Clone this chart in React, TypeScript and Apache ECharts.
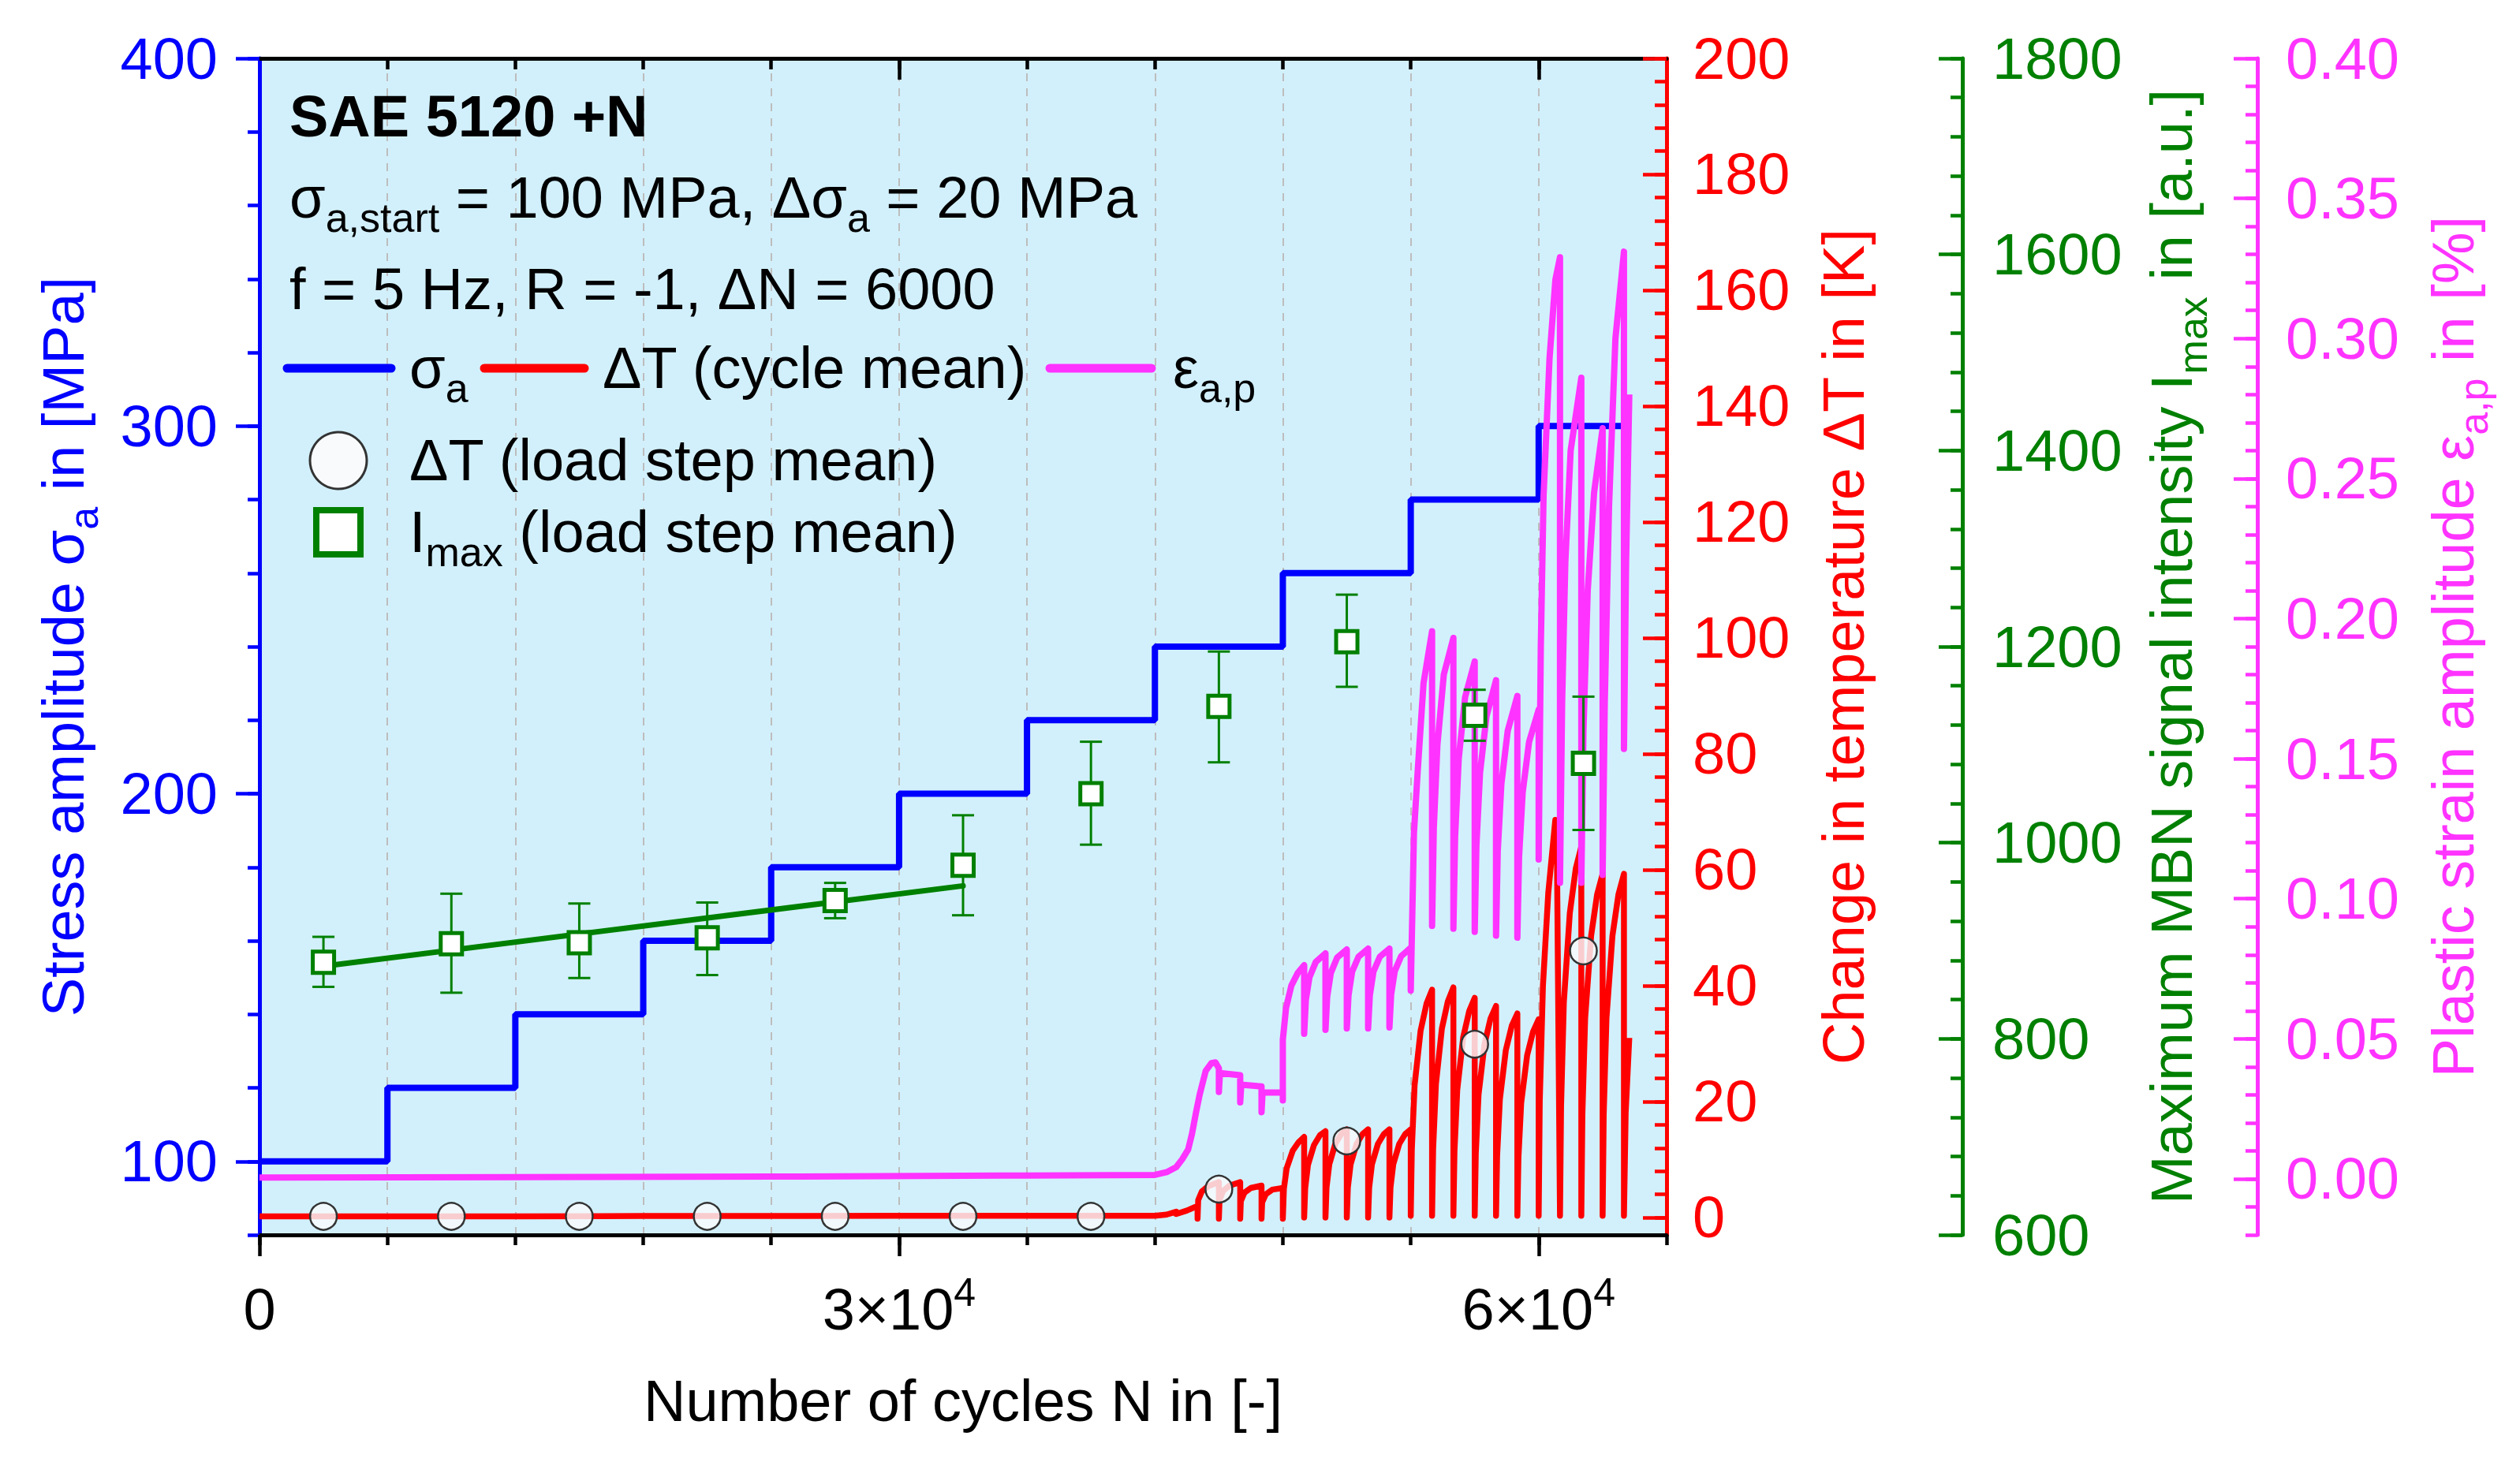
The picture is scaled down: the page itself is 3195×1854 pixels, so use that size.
import { useEffect, useRef } from 'react';
import * as echarts from 'echarts';

const FONT = '"Liberation Sans", Arial, sans-serif';
const BLUE = '#0000ff';
const RED = '#ff0000';
const GREEN = '#008000';
const MAGENTA = '#ff33ff';
const BLACK = '#000000';

// stress amplitude: start of each load step (cycles) and level (MPa)
const stepStartCycles = [0, 6000, 12000, 18000, 24000, 30000, 36000, 42000, 48000, 54000, 60000, 64250];
const stressLevels = [100, 120, 140, 160, 180, 200, 220, 240, 260, 280, 300, 300];

// load step means
const stepMeanCycles = [3000, 9000, 15000, 21000, 27000, 33000, 39000, 45000, 51000, 57000, 62100];
const dTStepMean = [0.2, 0.2, 0.2, 0.2, 0.2, 0.2, 0.2, 4.9, 13.2, 29.9, 46.0];
const imaxStepMean = [878, 897, 898, 903, 941, 977, 1050, 1139, 1205, 1130, 1081];
const imaxLow = [853, 847, 862, 865, 923, 926, 998, 1082, 1159, 1104, 1013];
const imaxHigh = [904, 948, 938, 939, 959, 1028, 1103, 1195, 1253, 1156, 1149];

// linear fit of Imax over the first load steps
const imaxFitCycles = [3000, 33000];
const imaxFitValues = [874, 956];

// ΔT (cycle mean), [cycles, K]
const dTSteps1to7 = [
  [0, 0.2], [6000, 0.2], [12000, 0.2], [18000, 0.25], [24000, 0.25], [30000, 0.3], [36000, 0.3], [42000, 0.3],
];
const dTStep8 = [
  [42550, 0.5], [43000, 1.0], [43000, 0.6], [43500, 1.2], [44000, 2.0],
  [44000, -0.2], [44030, 3.0], [44200, 4.5], [44500, 5.4], [45000, 6.1],
  [45000, -0.2], [45030, 3.0], [45200, 4.6], [45500, 5.5], [46000, 6.1],
  [46000, -0.2], [46030, 2.8], [46200, 4.3], [46500, 5.1], [47000, 5.5],
  [47000, -0.2], [47030, 2.6], [47200, 4.0], [47500, 4.8], [48000, 5.1],
  [48000, -0.2],
];
const dTStep9 = [
  [48050, 5.0], [48180, 8.5], [48460, 11.5], [48740, 13.0], [49000, 13.9], [49000, 0.0],
  [49050, 5.1], [49180, 9.1], [49460, 12.5], [49740, 14.2], [50000, 14.9], [50000, 0.0],
  [50050, 5.2], [50180, 9.2], [50460, 12.7], [50740, 14.4], [51000, 15.2], [51000, 0.0],
  [51050, 5.2], [51180, 9.2], [51460, 12.7], [51740, 14.4], [52000, 15.2], [52000, 0.0],
  [52050, 5.2], [52180, 9.2], [52460, 12.7], [52740, 14.4], [53000, 15.2], [53000, 0.0],
  [53050, 5.2], [53180, 9.2], [53460, 12.7], [53740, 14.4], [54000, 15.2], [54000, 0.3],
];
const dTStep10 = [
  [54050, 11.8], [54180, 22.8], [54460, 32.2], [54740, 36.9], [55000, 39.3], [55000, 0.3],
  [55050, 11.9], [55180, 23.0], [55460, 32.6], [55740, 37.3], [56000, 39.7], [56000, 0.3],
  [56050, 11.4], [56180, 22.0], [56460, 31.1], [56740, 35.6], [57000, 37.9], [57000, 0.3],
  [57050, 11.0], [57180, 21.2], [57460, 29.9], [57740, 34.3], [58000, 36.5], [58000, 0.3],
  [58050, 10.6], [58180, 20.4], [58460, 28.9], [58740, 33.1], [59000, 35.2], [59000, 0.3],
  [59050, 10.3], [59180, 19.8], [59460, 28.0], [59740, 32.1], [60000, 34.2], [60000, 0.3],
];
const dTStep11 = [
  [60050, 20.0], [60200, 40.0], [60450, 56.0], [60780, 68.6], [60850, 66.0], [61000, 0.3],
  [61050, 19.2], [61180, 37.1], [61460, 52.5], [61740, 60.2], [62000, 64.0], [62000, 0.3],
  [62050, 17.8], [62180, 34.4], [62460, 48.6], [62740, 55.7], [63000, 59.3], [63000, 0.3],
  [63050, 17.8], [63180, 34.4], [63460, 48.6], [63740, 55.7], [64000, 59.3], [64000, 0.3],
  [64080, 18.0], [64250, 31.0],
];

// plastic strain amplitude εa,p, [cycles, %]
const epsSteps1to7 = [[0, 0.0005], [12000, 0.0006], [24000, 0.0008], [36000, 0.0012], [42000, 0.0014]];
const epsStep8 = [
  [42550, 0.0024], [43000, 0.0042], [43280, 0.007], [43560, 0.0105], [43740, 0.0161], [43920, 0.0234],
  [44100, 0.0301], [44380, 0.0385], [44650, 0.0413], [44840, 0.0416], [45000, 0.0395],
  [45000, 0.031], [45050, 0.0378], [46000, 0.037],
  [46000, 0.0273], [46050, 0.0336], [47000, 0.033],
  [47000, 0.0238], [47050, 0.0308], [48000, 0.0308], [48000, 0.028],
];
const epsStep9 = [
  [48000, 0.0497], [48150, 0.061], [48400, 0.069], [48700, 0.0735], [49000, 0.0763],
  [49000, 0.0518], [49080, 0.064], [49250, 0.072], [49550, 0.0775], [50000, 0.0805],
  [50000, 0.0532], [50080, 0.065], [50250, 0.0735], [50550, 0.079], [51000, 0.0819],
  [51000, 0.0537], [51080, 0.0655], [51250, 0.074], [51550, 0.0793], [52000, 0.0822],
  [52000, 0.0537], [52080, 0.0655], [52250, 0.074], [52550, 0.0793], [53000, 0.0822],
  [53000, 0.054], [53080, 0.0658], [53250, 0.0742], [53550, 0.0795], [54000, 0.0825],
  [54000, 0.0672],
];
const epsStep10 = [
  [54150, 0.1235], [54330, 0.146], [54600, 0.177], [55000, 0.1955],
  [55000, 0.0903], [55080, 0.125], [55250, 0.155], [55550, 0.18], [56000, 0.1931],
  [56000, 0.0893], [56080, 0.122], [56250, 0.15], [56550, 0.172], [57000, 0.1847],
  [57000, 0.0882], [57080, 0.119], [57250, 0.145], [57550, 0.165], [58000, 0.178],
  [58000, 0.0868], [58080, 0.117], [58250, 0.141], [58550, 0.16], [59000, 0.1724],
  [59000, 0.0861], [59080, 0.115], [59250, 0.138], [59550, 0.156], [60000, 0.1675],
  [60000, 0.114],
];
const epsStep11 = [
  [60100, 0.19], [60230, 0.244], [60510, 0.293], [60785, 0.321], [61000, 0.329],
  [61000, 0.1057], [61100, 0.17], [61250, 0.22], [61500, 0.26], [62000, 0.286],
  [62000, 0.1057], [62100, 0.16], [62300, 0.21], [62600, 0.245], [63000, 0.268],
  [63000, 0.1085], [63100, 0.17], [63300, 0.24], [63600, 0.3], [64000, 0.331],
  [64000, 0.1535], [64100, 0.22], [64250, 0.28],
];

// axis labels
const xLabels = [0, 30000, 60000];
const blueLabels = [100, 200, 300, 400];
const redLabels = [0, 20, 40, 60, 80, 100, 120, 140, 160, 180, 200];
const greenLabels = [600, 800, 1000, 1200, 1400, 1600, 1800];
const magentaLabels = [0, 0.05, 0.1, 0.15, 0.2, 0.25, 0.3, 0.35, 0.4];

// tick positions between start and end
const ticks = (start: number, end: number, step: number) => {
  const out: number[] = [];
  for (let v = start; v <= end + step / 1000; v += step) out.push(Math.round(v * 1000) / 1000);
  return out;
};

const subStyle = (color: string) => ({
  sub: { fontSize: 52, lineHeight: 52, verticalAlign: 'bottom', fontFamily: FONT, color },
});

const nameStyle = (color: string) => ({
  color,
  fontSize: 74,
  fontFamily: FONT,
  lineHeight: 104,
  rich: subStyle(color),
});

function yAxisPair(o: {
  color: string;
  position: 'left' | 'right';
  offset: number;
  min: number;
  max: number;
  minor: number[];
  major: number[];
  labels: number[];
  fmt: (v: number) => string;
  margin: number;
  inside: boolean;
  name: string;
  nameGap: number;
}) {
  const tickStyle = { color: o.color, width: 4.5 };
  return [
    {
      type: 'value',
      position: o.position,
      offset: o.offset,
      min: o.min,
      max: o.max,
      axisLine: { show: true, onZero: false, lineStyle: { color: o.color, width: 5 } },
      axisTick: { show: true, inside: o.inside, length: 15, customValues: o.minor, lineStyle: tickStyle },
      axisLabel: {
        show: true,
        customValues: o.labels,
        formatter: o.fmt,
        margin: o.margin,
        color: o.color,
        fontSize: 74,
        fontFamily: FONT,
      },
      splitLine: { show: false },
      name: o.name,
      nameLocation: 'middle',
      nameRotate: 90,
      nameGap: o.nameGap,
      nameTextStyle: nameStyle(o.color),
    },
    {
      // longer ticks at the labelled values
      type: 'value',
      position: o.position,
      offset: o.offset,
      min: o.min,
      max: o.max,
      axisLine: { show: false, onZero: false },
      axisTick: { show: true, inside: o.inside, length: 30, customValues: o.major, lineStyle: tickStyle },
      axisLabel: { show: false },
      splitLine: { show: false },
    },
  ];
}

function xAxisSet() {
  const tickStyle = { color: BLACK, width: 4.5 };
  const base = { type: 'value', min: 0, max: 66000, interval: 6000 };
  return [
    {
      ...base,
      position: 'bottom',
      axisLine: { show: true, onZero: false, lineStyle: { color: BLACK, width: 5 } },
      axisTick: { show: true, inside: false, length: 13, customValues: ticks(0, 66000, 6000), lineStyle: tickStyle },
      axisLabel: {
        show: true,
        customValues: xLabels,
        formatter: (v: number) => (v === 0 ? '0' : `${v / 10000}×10{sup|4}`),
        margin: 48,
        color: BLACK,
        fontSize: 74,
        fontFamily: FONT,
        lineHeight: 93,
        rich: { sup: { fontSize: 50, lineHeight: 50, verticalAlign: 'top', fontFamily: FONT, color: BLACK } },
      },
      splitLine: { show: true, lineStyle: { color: '#bdbdbd', width: 2, type: [10, 9] } },
      name: 'Number of cycles N in [-]',
      nameLocation: 'middle',
      nameGap: 158,
      nameTextStyle: { color: BLACK, fontSize: 74, fontFamily: FONT, lineHeight: 104 },
    },
    {
      ...base,
      position: 'bottom',
      axisLine: { show: false, onZero: false },
      axisTick: { show: true, inside: false, length: 27, customValues: xLabels, lineStyle: tickStyle },
      axisLabel: { show: false },
      splitLine: { show: false },
    },
    {
      ...base,
      position: 'top',
      axisLine: { show: true, onZero: false, lineStyle: { color: BLACK, width: 5 } },
      axisTick: { show: true, inside: true, length: 14, customValues: ticks(6000, 60000, 6000), lineStyle: tickStyle },
      axisLabel: { show: false },
      splitLine: { show: false },
    },
    {
      ...base,
      position: 'top',
      axisLine: { show: false, onZero: false },
      axisTick: { show: true, inside: true, length: 27, customValues: [30000, 60000], lineStyle: tickStyle },
      axisLabel: { show: false },
      splitLine: { show: false },
    },
  ];
}

const textEl = (x: number, y: number, text: string, bold = false) => ({
  type: 'text',
  x,
  y,
  z: 50,
  style: {
    text,
    fill: BLACK,
    fontSize: 74,
    fontFamily: FONT,
    fontWeight: bold ? 'bold' : 'normal',
    lineHeight: 104,
    align: 'left',
    textAlign: 'left',
    verticalAlign: 'middle',
    textVerticalAlign: 'middle',
    rich: { sub: { fontSize: 52, lineHeight: 52, verticalAlign: 'bottom', fontFamily: FONT, fill: BLACK } },
  },
});

const legendLine = (x1: number, x2: number, y: number, color: string) => ({
  type: 'line',
  z: 50,
  shape: { x1, y1: y, x2, y2: y },
  style: { stroke: color, lineWidth: 11, lineCap: 'round' },
});

export default function App() {
  const chartRef = useRef<HTMLDivElement>(null);

  useEffect(() => {
    if (!chartRef.current) return;
    const chart = echarts.init(chartRef.current, null, { renderer: 'svg' });

    const option = {
      animation: false,
      textStyle: { fontFamily: FONT },
      grid: {
        left: 329,
        top: 74,
        width: 1784,
        height: 1492,
        show: true,
        backgroundColor: '#d2f0fb',
        borderWidth: 0,
      },
      xAxis: xAxisSet(),
      yAxis: [
        ...yAxisPair({
          color: BLUE,
          position: 'left',
          offset: 0,
          min: 80,
          max: 400,
          minor: ticks(80, 400, 20),
          major: blueLabels,
          labels: blueLabels,
          fmt: (v) => String(v),
          margin: 53,
          inside: false,
          name: 'Stress amplitude σ{sub|a} in [MPa]',
          nameGap: 197,
        }),
        ...yAxisPair({
          color: RED,
          position: 'right',
          offset: 0,
          min: -3,
          max: 200,
          minor: ticks(0, 200, 4),
          major: redLabels,
          labels: redLabels,
          fmt: (v) => String(v),
          margin: 33,
          inside: true,
          name: 'Change in temperature ΔT in [K]',
          nameGap: 172,
        }),
        ...yAxisPair({
          color: GREEN,
          position: 'right',
          offset: 375,
          min: 600,
          max: 1800,
          minor: ticks(600, 1800, 40),
          major: greenLabels,
          labels: greenLabels,
          fmt: (v) => String(v),
          margin: 38,
          inside: true,
          name: 'Maximum MBN signal intensity I{sub|max} in [a.u.]',
          nameGap: 208,
        }),
        ...yAxisPair({
          color: MAGENTA,
          position: 'right',
          offset: 749,
          min: -0.02,
          max: 0.4,
          minor: ticks(-0.02, 0.4, 0.01),
          major: magentaLabels,
          labels: magentaLabels,
          fmt: (v) => v.toFixed(2),
          margin: 36,
          inside: true,
          name: 'Plastic strain amplitude ε{sub|a,p} in [%]',
          nameGap: 196,
        }),
      ],
      graphic: [
        textEl(367, 147, 'SAE 5120 +N', true),
        textEl(367, 250, 'σ{sub|a,start} = 100 MPa, Δσ{sub|a} = 20 MPa'),
        textEl(367, 366, 'f = 5 Hz, R = -1, ΔN = 6000'),
        legendLine(364, 496, 467, BLUE),
        textEl(519, 466, 'σ{sub|a}'),
        legendLine(614, 741, 467, RED),
        textEl(764, 466, 'ΔT (cycle mean)'),
        legendLine(1331, 1460, 467, MAGENTA),
        textEl(1487, 466, 'ε{sub|a,p}'),
        {
          type: 'circle',
          z: 50,
          shape: { cx: 429, cy: 584, r: 36 },
          style: { fill: '#f8fafc', stroke: '#333333', lineWidth: 3 },
        },
        textEl(519, 583, 'ΔT (load step mean)'),
        {
          type: 'rect',
          z: 50,
          shape: { x: 401, y: 647, width: 56, height: 56 },
          style: { fill: '#ffffff', stroke: GREEN, lineWidth: 8 },
        },
        textEl(519, 674, 'I{sub|max} (load step mean)'),
      ],
      series: [
        {
          name: 'σa',
          type: 'line',
          xAxisIndex: 0,
          yAxisIndex: 0,
          step: 'end',
          symbol: 'none',
          data: stepStartCycles.map((c, i) => [c, stressLevels[i]]),
          lineStyle: { color: BLUE, width: 8 },
          z: 2,
        },
        {
          name: 'ΔT (cycle mean)',
          type: 'line',
          xAxisIndex: 0,
          yAxisIndex: 2,
          symbol: 'none',
          data: [...dTSteps1to7, ...dTStep8, ...dTStep9, ...dTStep10, ...dTStep11],
          lineStyle: { color: RED, width: 7.5, join: 'round' },
          z: 3,
        },
        {
          name: 'εa,p',
          type: 'line',
          xAxisIndex: 0,
          yAxisIndex: 6,
          symbol: 'none',
          data: [...epsSteps1to7, ...epsStep8, ...epsStep9, ...epsStep10, ...epsStep11],
          lineStyle: { color: MAGENTA, width: 8, join: 'round' },
          z: 4,
        },
        {
          name: 'Imax fit',
          type: 'line',
          xAxisIndex: 0,
          yAxisIndex: 4,
          symbol: 'none',
          data: imaxFitCycles.map((c, i) => [c, imaxFitValues[i]]),
          lineStyle: { color: GREEN, width: 7, cap: 'round' },
          z: 5,
        },
        {
          name: 'Imax error',
          type: 'custom',
          xAxisIndex: 0,
          yAxisIndex: 4,
          encode: { x: 0, y: [1, 2] },
          data: stepMeanCycles.map((c, i) => [c, imaxLow[i], imaxHigh[i]]),
          renderItem: (_params: any, api: any) => {
            const lo = api.coord([api.value(0), api.value(1)]);
            const hi = api.coord([api.value(0), api.value(2)]);
            const half = 14;
            const style = { stroke: GREEN, lineWidth: 3 };
            return {
              type: 'group',
              children: [
                { type: 'line', shape: { x1: hi[0], y1: hi[1], x2: lo[0], y2: lo[1] }, style },
                { type: 'line', shape: { x1: hi[0] - half, y1: hi[1], x2: hi[0] + half, y2: hi[1] }, style },
                { type: 'line', shape: { x1: lo[0] - half, y1: lo[1], x2: lo[0] + half, y2: lo[1] }, style },
              ],
            };
          },
          z: 6,
        },
        {
          name: 'Imax (load step mean)',
          type: 'scatter',
          xAxisIndex: 0,
          yAxisIndex: 4,
          symbol: 'rect',
          symbolSize: 27,
          data: stepMeanCycles.map((c, i) => [c, imaxStepMean[i]]),
          itemStyle: { color: '#ffffff', borderColor: GREEN, borderWidth: 5, opacity: 1 },
          z: 7,
        },
        {
          name: 'ΔT (load step mean)',
          type: 'scatter',
          xAxisIndex: 0,
          yAxisIndex: 2,
          symbol: 'circle',
          symbolSize: 34,
          data: stepMeanCycles.map((c, i) => [c, dTStepMean[i]]),
          itemStyle: { color: 'rgba(248,250,252,0.82)', borderColor: '#333333', borderWidth: 2.5, opacity: 1 },
          z: 8,
        },
      ],
    };

    chart.setOption(option as any);

    const handleResize = () => chart.resize();
    window.addEventListener('resize', handleResize);

    return () => {
      window.removeEventListener('resize', handleResize);
      chart.dispose();
    };
  }, []);

  return (
    <div
      ref={chartRef}
      style={{ position: 'absolute', left: 0, top: 0, width: 3195, height: 1854, background: '#ffffff' }}
    />
  );
}
